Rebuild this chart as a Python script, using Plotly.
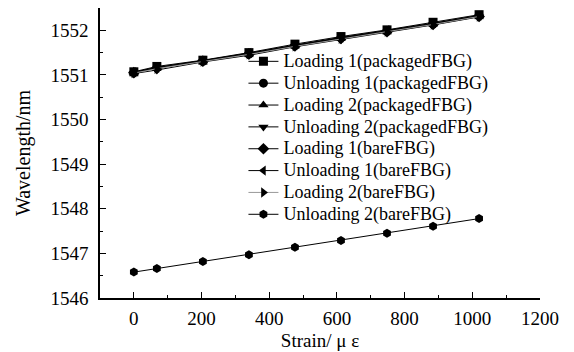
import plotly.graph_objects as go

strain = [0, 68, 204, 340, 476, 612, 748, 884, 1020]

loading1_packaged = [1551.07, 1551.19, 1551.33, 1551.50, 1551.69, 1551.86, 1552.01, 1552.18, 1552.35]
unloading1_packaged = [1551.05, 1551.16, 1551.31, 1551.47, 1551.66, 1551.83, 1551.98, 1552.14, 1552.33]
loading2_packaged = [1551.06, 1551.17, 1551.32, 1551.48, 1551.67, 1551.84, 1551.99, 1552.15, 1552.33]
unloading2_packaged = [1551.03, 1551.11, 1551.29, 1551.44, 1551.63, 1551.79, 1551.96, 1552.12, 1552.30]
loading1_bare = [1551.05, 1551.15, 1551.31, 1551.47, 1551.65, 1551.82, 1551.97, 1552.13, 1552.31]
unloading1_bare = [1551.06, 1551.16, 1551.32, 1551.49, 1551.67, 1551.84, 1552.00, 1552.16, 1552.33]
loading2_bare = [1551.04, 1551.14, 1551.30, 1551.46, 1551.64, 1551.81, 1551.97, 1552.13, 1552.31]
unloading2_bare = [1546.58, 1546.66, 1546.82, 1546.97, 1547.14, 1547.29, 1547.45, 1547.61, 1547.78]

series = [
    ("Loading 1(packagedFBG)", loading1_packaged, "square", "black"),
    ("Unloading 1(packagedFBG)", unloading1_packaged, "circle", "black"),
    ("Loading 2(packagedFBG)", loading2_packaged, "triangle-up", "black"),
    ("Unloading 2(packagedFBG)", unloading2_packaged, "triangle-down", "black"),
    ("Loading 1(bareFBG)", loading1_bare, "diamond", "black"),
    ("Unloading 1(bareFBG)", unloading1_bare, "triangle-left", "black"),
    ("Loading 2(bareFBG)", loading2_bare, "triangle-right", "#999999"),
    ("Unloading 2(bareFBG)", unloading2_bare, "hexagon", "black"),
]

fig = go.Figure()
for name, ys, sym, lc in series:
    fig.add_trace(go.Scatter(
        x=strain, y=ys, mode="lines+markers",
        name='<span style="font-size:18px">' + name + "</span>",
        line=dict(color=lc, width=1),
        marker=dict(symbol=sym, size=9, color="black"),
    ))

font = dict(family="Liberation Serif, Times New Roman, serif", size=19, color="black")

fig.update_layout(
    width=574, height=352,
    margin=dict(l=100, r=34, t=8, b=54),
    paper_bgcolor="white", plot_bgcolor="white",
    font=font,
    showlegend=True,
    legend=dict(x=0.326, y=0.871, xanchor="left", yanchor="top",
                bgcolor="rgba(0,0,0,0)", font=dict(size=14.5),
                tracegroupgap=0, itemwidth=30),
)
fig.update_xaxes(
    automargin=False,
    range=[-100, 1200], tickvals=[0, 200, 400, 600, 800, 1000, 1200],
    ticks="inside", ticklen=6, tickcolor="black", showline=True,
    linecolor="black", linewidth=1.5, showgrid=False, zeroline=False,
    ticklabelstandoff=2,
    minor=dict(ticks="inside", ticklen=3, dtick=100, tick0=0, tickcolor="black"),
    title=dict(text="Strain/ \u03bc \u03b5", standoff=6, font=dict(size=19)),
)
fig.update_yaxes(
    automargin=False,
    range=[1546, 1552.5], tickvals=[1546, 1547, 1548, 1549, 1550, 1551, 1552],
    ticks="inside", ticklen=6, tickcolor="black", showline=True,
    linecolor="black", linewidth=1.5, showgrid=False, zeroline=False,
    ticklabelstandoff=6,
    minor=dict(ticks="inside", ticklen=3, dtick=0.5, tick0=1546, tickcolor="black"),
    title=dict(text="Wavelength/nm", standoff=14, font=dict(size=20)),
)

fig.write_html("out.html",
               config={"displayModeBar": False},
               post_script="document.body.style.margin='0';document.body.style.overflow='hidden';")
